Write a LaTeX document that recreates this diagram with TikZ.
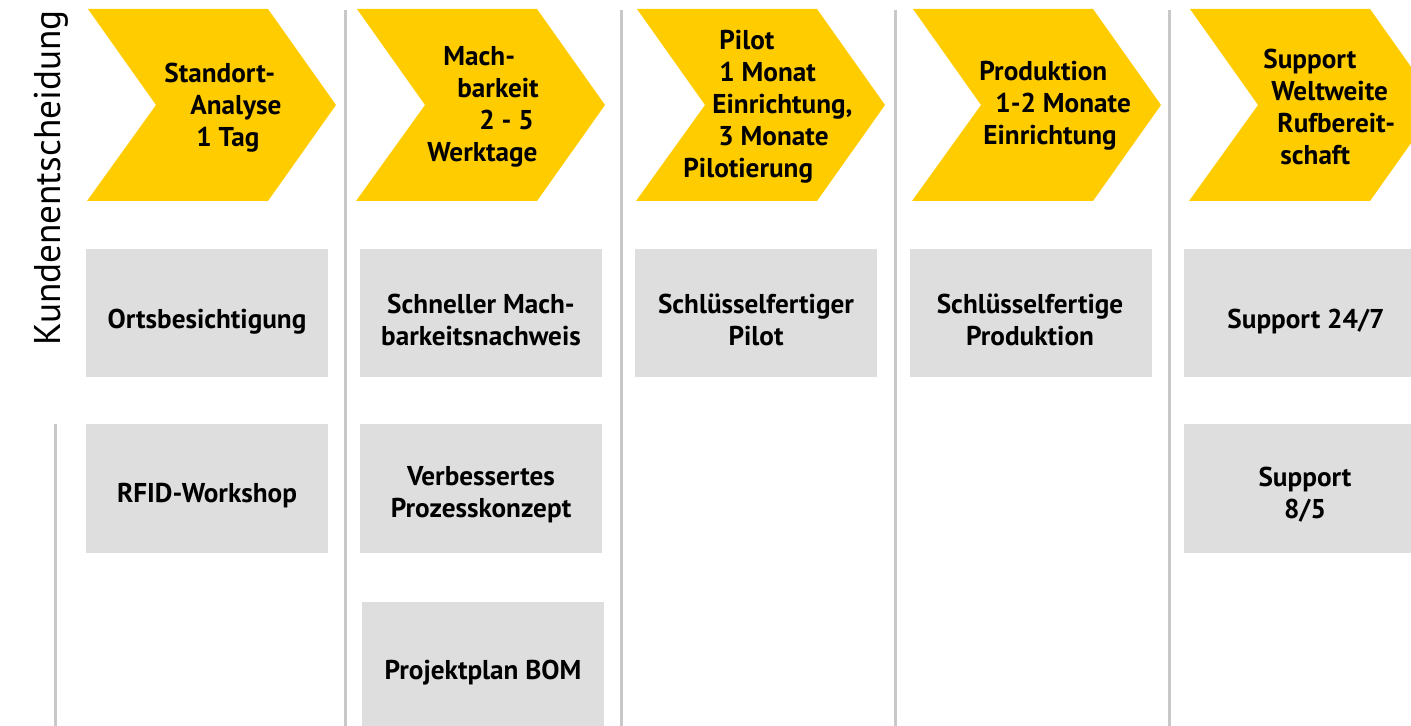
\documentclass[tikz,border=0pt]{standalone}
\usepackage{fontspec}
\setmainfont{PT Sans}
\definecolor{chevyellow}{HTML}{FFCC00}
\definecolor{boxgray}{HTML}{DEDEDE}
\definecolor{linegray}{HTML}{C8C8C8}
\tikzset{
  phase/.style={fill=chevyellow},
  phasetext/.style={anchor=west, inner sep=0pt, align=left,
    font=\fontsize{13.6}{16}\selectfont\bfseries},
  task/.style={fill=boxgray},
  tasktext/.style={inner sep=0pt, align=center,
    font=\fontsize{13.6}{16}\selectfont\bfseries},
  divider/.style={draw=linegray, line width=1.5pt}
}
\begin{document}
\begin{tikzpicture}[
        x=0.5pt,
        y=-0.5pt]
\useasboundingbox (0,0) rectangle (1411,726);
\clip (0,0) rectangle (1411,726);
\foreach \x in {345,621,895,1169}{
    \draw[divider] (\x,10)--(\x,726);
}
\draw[divider] (55,424)--(55,726);
\node[rotate=90, anchor=base, font=\fontsize{18.6}{20}\selectfont] (entscheidung) at (60,178) {Kundenentscheidung};
% phases
\foreach \x in {88,357,637,913,1190}{
    \fill[phase] (\x,9) -- ++(180,0) -- ++(68,96) -- ++(-68,96) -- ++(-181,0) -- ++(69,-96) -- cycle;
}
\node[phasetext] (standort) at (164,108) {Standort-\\\hspace*{13pt}Analyse\\\hspace*{16pt}1 Tag};
\node[phasetext] (machbarkeit) at (427,107) {\hspace*{8pt}Mach-\\\hspace*{15pt}barkeit\\\hspace*{26pt}2 - 5\\Werktage};
\node[phasetext] (pilot) at (683,107) {\hspace*{18pt}Pilot\\\hspace*{18pt}1 Monat\\\hspace*{14.5pt}Einrichtung,\\\hspace*{17.5pt}3 Monate\\Pilotierung};
\node[phasetext] (produktion) at (979,106) {Produktion\\\hspace*{8pt}1-2 Monate\\\hspace*{2pt}Einrichtung};
\node[phasetext] (support) at (1263,107) {Support\\\hspace*{4pt}Weltweite\\\hspace*{7pt}Rufbereit-\\\hspace*{8.5pt}schaft};
% tasks
\foreach \x/\y in {86/249, 86/424, 360/249, 360/424, 362/602, 635/249, 910/249, 1184/249, 1184/424}{
    \fill[task] (\x,\y) rectangle ++(242,128.5);
}
\node[tasktext] (ort) at (207,322) {Ortsbesichtigung};
\node[tasktext] (workshop) at (207,496) {RFID-Workshop};
\node[tasktext] (nachweis) at (481,320) {Schneller Mach-\\barkeitsnachweis};
\node[tasktext] (konzept) at (481,495) {Verbessertes\\Prozesskonzept};
\node[tasktext] (bom) at (483,673) {Projektplan BOM};
\node[tasktext] (schluesselpilot) at (756,320) {Schlüsselfertiger\\Pilot};
\node[tasktext] (schluesselprod) at (1030,320) {Schlüsselfertige\\Produktion};
\node[tasktext] (support247) at (1306,322) {Support 24/7};
\node[tasktext] (support85) at (1305,495) {Support\\8/5};
\end{tikzpicture}
\end{document}
